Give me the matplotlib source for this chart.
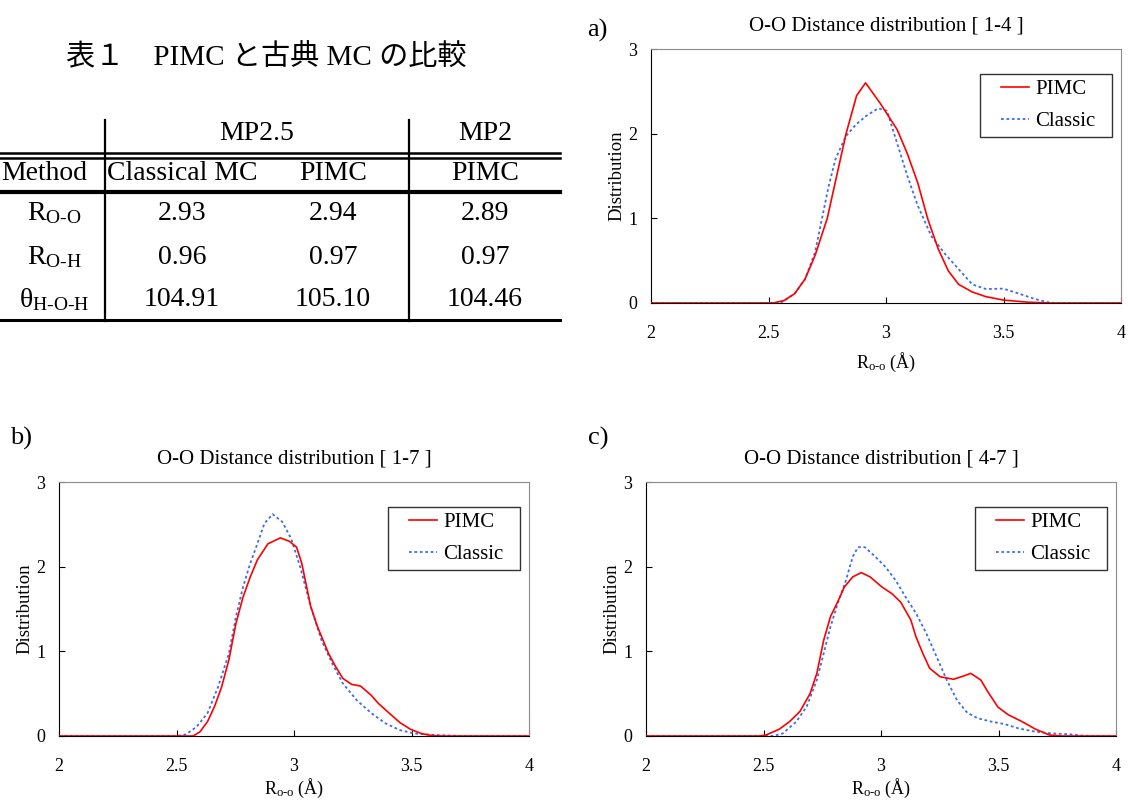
import numpy as np
import matplotlib
matplotlib.use("Agg")
from matplotlib import pyplot as plt
from matplotlib.patches import Rectangle

plt.rcParams["font.family"] = ["Liberation Serif", "Noto Sans CJK JP", "DejaVu Sans"]
plt.rcParams["mathtext.fontset"] = "custom"
plt.rcParams["mathtext.rm"] = "Liberation Serif"
plt.rcParams["mathtext.it"] = "Liberation Serif:italic"

ROJO = "#ff0000"
AZUL = "#3a6cf0"

# tabla 1
TITULO_TABLA = "表１　PIMC と古典 MC の比較"
GRUPOS = ["MP2.5", "MP2"]
COLUMNAS = ["Method", "Classical MC", "PIMC", "PIMC"]
FILAS = ["R$_{\\text{O-O}}$", "R$_{\\text{O-H}}$", "θ$_{\\text{H-O-H}}$"]
VALORES = [
    ["2.93", "2.94", "2.89"],
    ["0.96", "0.97", "0.97"],
    ["104.91", "105.10", "104.46"],
]

# a) [1-4]
a_pimc_x = [2.0, 2.52, 2.567, 2.611, 2.655, 2.698, 2.75, 2.83, 2.875, 2.913, 2.975, 3.047, 3.09,
            3.135, 3.178, 3.222, 3.265, 3.309, 3.367, 3.425, 3.498, 3.6, 3.70, 4.0]
a_pimc_y = [0.0, 0.0, 0.03, 0.11, 0.28, 0.56, 1.0, 2.0, 2.45, 2.60, 2.36, 2.05, 1.77,
            1.42, 0.99, 0.64, 0.38, 0.22, 0.13, 0.075, 0.035, 0.01, 0.0, 0.0]
a_clas_x = [2.0, 2.55, 2.611, 2.655, 2.698, 2.727, 2.756, 2.785, 2.829, 2.873, 2.916, 2.967, 3.004,
            3.047, 3.091, 3.135, 3.193, 3.251, 3.309, 3.367, 3.425, 3.498, 3.556, 3.63, 3.687, 3.72, 4.0]
a_clas_y = [0.0, 0.0, 0.11, 0.28, 0.6, 0.99, 1.38, 1.70, 1.97, 2.11, 2.21, 2.30, 2.27,
            1.89, 1.50, 1.15, 0.79, 0.58, 0.40, 0.22, 0.165, 0.17, 0.12, 0.05, 0.01, 0.0, 0.0]

# b) [1-7]
b_pimc_x = [2.0, 2.571, 2.60, 2.632, 2.662, 2.692, 2.723, 2.753, 2.783, 2.814, 2.844, 2.889, 2.942,
            2.98, 3.011, 3.033, 3.071, 3.10, 3.147, 3.177, 3.208, 3.245, 3.283, 3.329, 3.359,
            3.405, 3.45, 3.495, 3.541, 3.586, 3.63, 4.0]
b_pimc_y = [0.0, 0.0, 0.05, 0.17, 0.35, 0.58, 0.90, 1.33, 1.64, 1.88, 2.08, 2.27, 2.34,
            2.30, 2.23, 2.04, 1.53, 1.29, 0.975, 0.82, 0.68, 0.61, 0.59, 0.48, 0.385,
            0.27, 0.16, 0.08, 0.03, 0.005, 0.0, 0.0]
b_clas_x = [2.0, 2.50, 2.541, 2.586, 2.632, 2.677, 2.723, 2.753, 2.783, 2.814, 2.844, 2.874, 2.909,
            2.95, 2.988, 3.026, 3.071, 3.117, 3.162, 3.208, 3.268, 3.329, 3.389, 3.45, 3.51,
            3.60, 3.677, 3.72, 4.0]
b_clas_y = [0.0, 0.0, 0.02, 0.11, 0.27, 0.58, 0.975, 1.41, 1.76, 2.04, 2.27, 2.51, 2.62,
            2.53, 2.33, 2.00, 1.53, 1.13, 0.86, 0.62, 0.42, 0.27, 0.15, 0.07, 0.03,
            0.012, 0.004, 0.0, 0.0]

# c) [4-7]
c_pimc_x = [2.0, 2.48, 2.509, 2.567, 2.611, 2.655, 2.698, 2.727, 2.756, 2.785, 2.815, 2.844, 2.88,
            2.916, 2.953, 3.004, 3.047, 3.084, 3.127, 3.149, 3.178, 3.207, 3.251, 3.309, 3.353,
            3.382, 3.425, 3.455, 3.498, 3.542, 3.6, 3.658, 3.716, 3.77, 4.0]
c_pimc_y = [0.0, 0.0, 0.01, 0.08, 0.17, 0.29, 0.50, 0.74, 1.13, 1.41, 1.58, 1.76, 1.88,
            1.93, 1.88, 1.76, 1.68, 1.58, 1.37, 1.17, 0.975, 0.80, 0.70, 0.67, 0.71,
            0.74, 0.66, 0.52, 0.34, 0.25, 0.17, 0.08, 0.012, 0.0, 0.0]
c_clas_x = [2.0, 2.54, 2.582, 2.64, 2.684, 2.727, 2.756, 2.785, 2.815, 2.851, 2.88, 2.902, 2.931,
            2.975, 3.018, 3.062, 3.105, 3.149, 3.193, 3.236, 3.28, 3.324, 3.367, 3.411, 3.469,
            3.527, 3.585, 3.658, 3.731, 3.804, 3.862, 3.9, 4.0]
c_clas_y = [0.0, 0.0, 0.03, 0.17, 0.35, 0.66, 0.975, 1.29, 1.56, 1.84, 2.12, 2.23, 2.23,
            2.12, 2.00, 1.84, 1.64, 1.45, 1.21, 0.94, 0.66, 0.42, 0.275, 0.21, 0.17,
            0.14, 0.09, 0.05, 0.03, 0.02, 0.004, 0.0, 0.0]

PANELES = [
    ("a)", "O-O Distance distribution [ 1-4 ]", a_pimc_x, a_pimc_y, a_clas_x, a_clas_y),
    ("b)", "O-O Distance distribution [ 1-7 ]", b_pimc_x, b_pimc_y, b_clas_x, b_clas_y),
    ("c)", "O-O Distance distribution [ 4-7 ]", c_pimc_x, c_pimc_y, c_clas_x, c_clas_y),
]

W, H = 1128, 802
fig = plt.figure(figsize=(W / 100, H / 100), dpi=100)


def px_axes(x0, y0, x1, y1):
    """Crea un eje a partir de coordenadas en pixeles (origen arriba a la izquierda)."""
    return fig.add_axes([x0 / W, 1 - y1 / H, (x1 - x0) / W, (y1 - y0) / H])


def graficar_tabla():
    ax = px_axes(0, 0, 564, 400)
    ax.set_xlim(0, 564)
    ax.set_ylim(400, 0)
    ax.axis("off")
    fs = 20
    ax.text(266, 57, TITULO_TABLA, fontsize=21, ha="center", va="center")
    # encabezados
    ax.text(257, 133, GRUPOS[0], fontsize=fs, ha="center", va="center")
    ax.text(485, 133, GRUPOS[1], fontsize=fs, ha="center", va="center")
    xs = [44, 182, 333, 485]
    for x, c in zip(xs, COLUMNAS):
        ax.text(x, 174, c, fontsize=fs, ha="center", va="center")
    ys = [213, 257, 300]
    for y, f, vals in zip(ys, FILAS, VALORES):
        ax.text(54, y, f, fontsize=fs, ha="center", va="center")
        for x, v in zip(xs[1:], vals):
            ax.text(x, y, v, fontsize=fs, ha="center", va="center")
    # lineas
    ax.plot([105, 105], [120, 321], color="k", lw=1.6)
    ax.plot([409, 409], [120, 321], color="k", lw=1.6)
    ax.plot([0, 560], [152.5, 152.5], color="k", lw=1.8)
    ax.plot([0, 560], [157.5, 157.5], color="k", lw=1.8)
    ax.plot([0, 560], [192, 192], color="k", lw=3.0)
    ax.plot([0, 560], [320, 320], color="k", lw=2.2)


def graficar_panel(caja, etiqueta, pos_etq, titulo, px, py, cx, cy, pad_x=6):
    ax = px_axes(*caja)
    ax.plot(cx, cy, color=AZUL, lw=1.3, ls=(0, (1.5, 1.5)), label="Classic", zorder=2)
    ax.plot(px, py, color=ROJO, lw=1.2, label="PIMC", zorder=3)
    ax.set_xlim(2, 4)
    ax.set_ylim(0, 3)
    ax.set_xticks([2, 2.5, 3, 3.5, 4])
    ax.set_xticklabels(["2", "2.5", "3", "3.5", "4"])
    ax.set_yticks([0, 1, 2, 3])
    ax.tick_params(axis="x", direction="in", length=4, pad=16, labelsize=13)
    ax.tick_params(axis="y", direction="in", length=4, pad=10, labelsize=13)
    for s in ["top", "right"]:
        ax.spines[s].set_color("#8c8c8c")
    for s in ["left", "bottom"]:
        ax.spines[s].set_color("k")
    ax.set_title(titulo, fontsize=15, pad=13)
    ax.set_ylabel("Distribution", fontsize=13.5, labelpad=2)
    ax.set_xlabel("R$_{\\text{o-o}}$ (Å)", fontsize=13, labelpad=pad_x)

    # leyenda con marco propio
    x0l, x1l, y0l, y1l = 0.699, 0.981, 0.654, 0.902
    ax.add_patch(Rectangle((x0l, y0l), x1l - x0l, y1l - y0l, transform=ax.transAxes,
                           facecolor="white", edgecolor="#333333", lw=1.0, zorder=5))
    h, l = ax.get_legend_handles_labels()
    leg = ax.legend(h[::-1], l[::-1], loc="center",
                    bbox_to_anchor=((x0l + x1l) / 2 + 0.005, (y0l + y1l) / 2),
                    borderaxespad=0, frameon=False, fontsize=15, handlelength=1.35,
                    handletextpad=0.3, borderpad=0, labelspacing=0.6)
    leg.set_zorder(6)

    fig.text(pos_etq[0] / W, 1 - pos_etq[1] / H, etiqueta, fontsize=19, ha="left", va="center")


graficar_tabla()
cajas = [(651, 49, 1121, 303), (59, 482, 529, 736), (646, 482, 1116, 736)]
pos_etiquetas = [(587, 30), (10, 438), (588, 438)]
pads_x = [6, 1, 1]
for caja, pos, pad, (etq, tit, px, py, cx, cy) in zip(cajas, pos_etiquetas, pads_x, PANELES):
    graficar_panel(caja, etq, pos, tit, px, py, cx, cy, pad_x=pad)

fig.savefig("out.png", dpi=100)
